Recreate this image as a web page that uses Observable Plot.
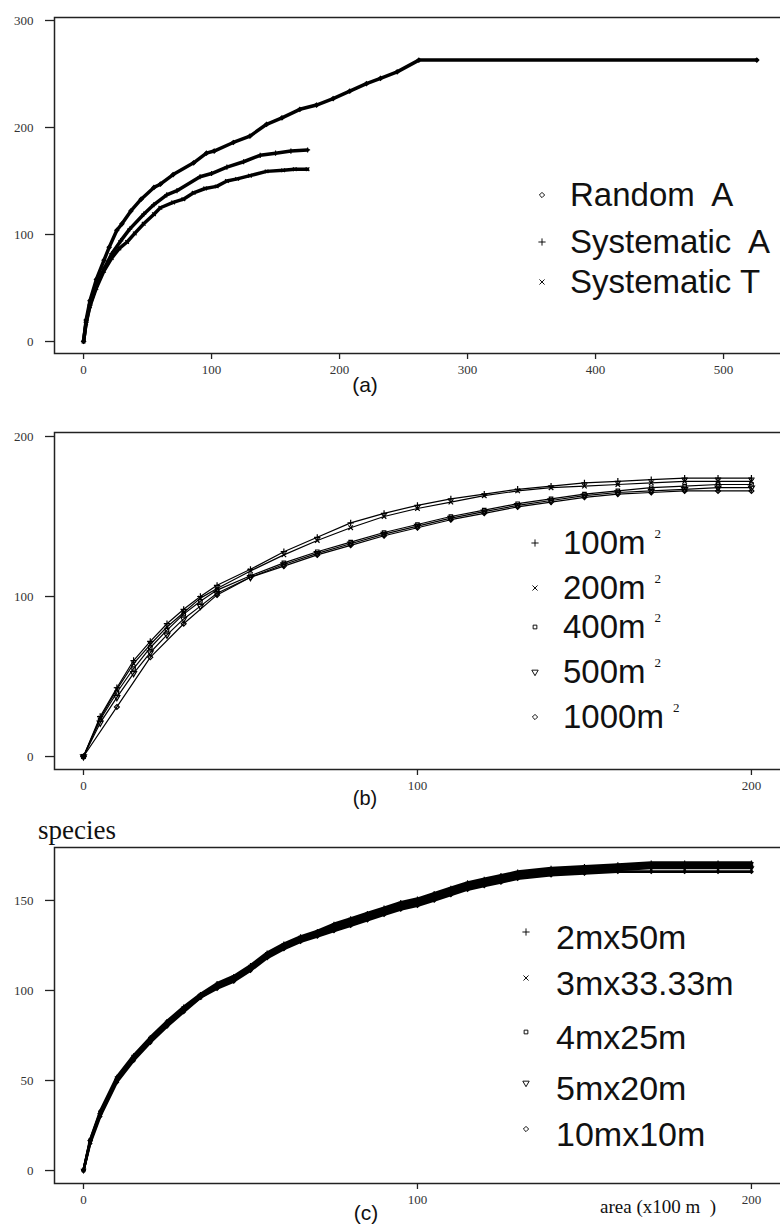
<!DOCTYPE html>
<html>
<head>
<meta charset="utf-8">
<script src="https://cdn.jsdelivr.net/npm/d3@7"></script>
<script src="https://cdn.jsdelivr.net/npm/@observablehq/plot@0.6"></script>
<style>
html, body { margin: 0; padding: 0; background: #fff; overflow: hidden; }
#root { position: relative; width: 790px; height: 1226px; overflow: hidden; background: #fff; }
.panel { position: absolute; left: 0; }
.panel svg { max-width: none !important; display: block; }
.txt { position: absolute; white-space: pre; color: #111; }
.sans { font-family: "Liberation Sans", Arial, sans-serif; }
.serif { font-family: "Liberation Serif", "Times New Roman", serif; }
.leg { position: absolute; width: 280px; }
.lga-swatches, .lgb-swatches, .lgc-swatches { font-family: "Liberation Sans", Arial, sans-serif !important; color: #111 !important; margin: 0 !important; }
.lga-swatch, .lgb-swatch, .lgc-swatch { padding: 0 !important; display: flex; align-items: center; }
.lga-swatch-label, .lgb-swatch-label, .lgc-swatch-label { overflow: visible !important; text-overflow: clip !important; white-space: pre !important; }
.lga-swatch-label, .lgb-swatch-label { font-size: 33px !important; }
.lgc-swatch-label { font-size: 34px !important; }
.lga .lga-swatch { height: 40px; }
.lga .lga-swatch:nth-child(3) { margin-top: 7px; }
.lga .lga-swatch svg { margin-right: 23px !important; }
.lgb .lgb-swatch { height: 45px; }
.lgb .lgb-swatch:nth-child(4) { margin-top: -6px; }
.lgb .lgb-swatch svg { margin-right: 23px !important; }
.lgc .lgc-swatch { height: 46px; }
.lgc .lgc-swatch:nth-child(4) { margin-top: 8px; }
.lgc .lgc-swatch:nth-child(5) { margin-top: 5px; }
.lgc .lgc-swatch svg { margin-right: 25px !important; position: relative; top: -5px; }
.sup { font-family: "Liberation Serif", serif; font-size: 13px; position: relative; top: -16px; margin-left: 9px; }
</style>
</head>
<body>
<div id="root"></div>
<script>
// ---------------- Panel (a) data ----------------
const seriesA = ["Random  A", "Systematic  A", "Systematic T"];
const randomAX = [0, 2, 5, 10, 16, 20, 26, 30, 37, 45, 55, 60, 70, 86, 96, 102, 117, 130, 143, 155, 169, 182, 195, 208, 221, 232, 245, 262, 526];
const randomAY = [0, 20, 38, 58, 76, 88, 104, 110, 122, 133, 144, 147, 156, 167, 176, 178, 186, 192, 203, 209, 217, 221, 227, 234, 241, 246, 252, 263, 263];
const sysAX = [0, 2, 5, 10, 16, 22, 29, 36, 47, 55, 65, 73, 91, 100, 112, 125, 138, 150, 162, 175];
const sysAY = [0, 18, 34, 52, 68, 82, 94, 105, 119, 128, 137, 141, 154, 157, 163, 168, 174, 176, 178, 179];
const sysTX = [0, 2, 5, 10, 16, 22, 28, 34, 40, 47, 55, 60, 70, 78, 86, 95, 104, 112, 120, 130, 143, 156, 165, 175];
const sysTY = [0, 17, 33, 50, 66, 78, 87, 93, 101, 110, 119, 125, 130, 133, 139, 143, 145, 150, 152, 155, 159, 160, 161, 161];
const ticksAX = [0, 100, 200, 300, 400, 500];
const ticksAY = [0, 100, 200, 300];

// ---------------- Panel (b) data ----------------
const seriesB = ["100m", "200m", "400m", "500m", "1000m"];
const bX = [0, 5, 10, 15, 20, 25, 30, 35, 40, 50, 60, 70, 80, 90, 100, 110, 120, 130, 140, 150, 160, 170, 180, 190, 200];
const b100 = [0, 25, 43, 60, 72, 83, 92, 100, 107, 117, 128, 137, 146, 152, 157, 161, 164, 167, 169, 171, 172, 173, 174, 174, 174];
const b200 = [0, 24, 42, 58, 70, 81, 90, 99, 105, 116, 126, 135, 143, 150, 155, 159, 163, 166, 168, 169, 170, 171, 172, 172, 172];
const b400 = [0, 23, 40, 55, 68, 79, 89, 97, 104, 113, 121, 128, 134, 140, 145, 150, 154, 158, 161, 164, 166, 168, 169, 170, 170];
const b500 = [0, 21, 37, 52, 65, 76, 86, 94, 102, 112, 120, 127, 133, 139, 144, 149, 153, 157, 160, 163, 165, 166, 167, 168, 168];
const b1000X = [0, 10, 20, 30, 40, 50, 60, 70, 80, 90, 100, 110, 120, 130, 140, 150, 160, 170, 180, 190, 200];
const b1000 = [0, 31, 62, 83, 101, 112, 119, 126, 132, 138, 143, 148, 152, 156, 159, 162, 164, 165, 166, 166, 166];
const ticksBX = [0, 100, 200];
const ticksBY = [0, 100, 200];

// ---------------- Panel (c) data ----------------
const seriesC = ["2mx50m", "3mx33.33m", "4mx25m", "5mx20m", "10mx10m"];
const cX = [0, 2, 5, 10, 15, 20, 25, 30, 35, 40, 45, 50, 55, 60, 65, 70, 75, 80, 85, 90, 95, 100, 105, 110, 115, 120, 125, 130, 140, 150, 160, 170, 180, 190, 200];
const c2x50 = [0, 17, 33, 52, 64, 74, 83, 91, 98, 104, 108, 114, 121, 126, 130, 133, 137, 140, 143, 146, 149, 151, 154, 157, 160, 162, 164, 166, 168, 169, 170, 171, 171, 171, 171];
const c3x33 = [0, 16, 32, 51, 63, 73, 82, 90, 97, 103, 107, 113, 120, 125, 129, 132, 136, 139, 142, 145, 148, 150, 153, 156, 159, 161, 163, 165, 167, 168, 169, 170, 170, 170, 170];
const c4x25 = [0, 17, 32, 50, 63, 72, 81, 89, 96, 102, 106, 112, 119, 124, 128, 131, 135, 138, 141, 144, 147, 149, 152, 155, 158, 160, 162, 164, 166, 167, 168, 169, 169, 169, 169];
const c5x20 = [0, 16, 31, 50, 62, 72, 81, 89, 97, 102, 106, 112, 119, 124, 128, 131, 134, 137, 140, 143, 146, 148, 151, 154, 157, 159, 161, 163, 165, 166, 167, 168, 168, 168, 168];
const c10x10 = [0, 15, 30, 49, 61, 71, 80, 88, 96, 101, 105, 111, 118, 123, 127, 130, 133, 136, 139, 142, 145, 147, 150, 153, 156, 158, 160, 162, 164, 165, 166, 166, 166, 166, 166];
const ticksCX = [0, 100, 200];
const ticksCY = [0, 50, 100, 150];

// ---------------- helpers ----------------
const triangleDown = {
  draw(context, size) {
    const y = -Math.sqrt(size / (Math.sqrt(3) * 3));
    const s3 = Math.sqrt(3);
    context.moveTo(0, -y * 2);
    context.lineTo(-s3 * y, y);
    context.lineTo(s3 * y, y);
    context.closePath();
  }
};
const symbolsA = ["diamond2", "plus", "times"];
const symbolsBC = ["plus", "times", "square2", triangleDown, "diamond2"];

function tidy(series, xs, ys) { return xs.map((x, i) => ({series, x, y: ys[i]})); }

const dataA = [...tidy(seriesA[0], randomAX, randomAY), ...tidy(seriesA[1], sysAX, sysAY), ...tidy(seriesA[2], sysTX, sysTY)];
const dataB = [...tidy(seriesB[0], bX, b100), ...tidy(seriesB[1], bX, b200), ...tidy(seriesB[2], bX, b400), ...tidy(seriesB[3], bX, b500), ...tidy(seriesB[4], b1000X, b1000)];
const dataC = [...tidy(seriesC[0], cX, c2x50), ...tidy(seriesC[1], cX, c3x33), ...tidy(seriesC[2], cX, c4x25), ...tidy(seriesC[3], cX, c5x20), ...tidy(seriesC[4], cX, c10x10)];

const root = document.getElementById("root");

function panel({top, height, mt, mb, xDomain, yDomain, xTicks, yTicks, data, series, symbols, lineWidth, dotR}) {
  const p = Plot.plot({
    width: 790, height, marginTop: mt, marginBottom: mb, marginLeft: 54, marginRight: 5,
    style: {fontFamily: "'Liberation Serif', 'Times New Roman', serif", fontSize: "13px", color: "#111", background: "white"},
    x: {domain: xDomain},
    y: {domain: yDomain},
    symbol: {domain: series, range: symbols},
    marks: [
      Plot.line(data, {x: "x", y: "y", z: "series", stroke: "#000", strokeWidth: lineWidth, strokeLinejoin: "round"}),
      Plot.dot(data, {x: "x", y: "y", symbol: "series", r: dotR, stroke: "#000", fill: "none", strokeWidth: 1.2}),
      Plot.frame({stroke: "#222", strokeWidth: 1.5}),
      Plot.axisX({ticks: xTicks, tickSize: 6, tickPadding: 5, label: null, fill: "#333", stroke: "#222", strokeWidth: 1.3}),
      Plot.axisY({ticks: yTicks, tickSize: 9, tickPadding: 12, label: null, fill: "#333", stroke: "#222", strokeWidth: 1.3})
    ]
  });
  const d = document.createElement("div");
  d.className = "panel";
  d.style.top = top + "px";
  d.appendChild(p);
  root.appendChild(d);
}

panel({top: 0, height: 400, mt: 17, mb: 47, xDomain: [-22.7, 548.4], yDomain: [-11.2, 302.8], xTicks: ticksAX, yTicks: ticksAY, data: dataA, series: seriesA, symbols: symbolsA, lineWidth: 3.5, dotR: 1.8});
panel({top: 400, height: 410, mt: 32, mb: 41, xDomain: [-8.68, 210.2], yDomain: [-8.1, 202.5], xTicks: ticksBX, yTicks: ticksBY, data: dataB, series: seriesB, symbols: symbolsBC, lineWidth: 1.2, dotR: 2.2});
panel({top: 810, height: 416, mt: 37, mb: 43, xDomain: [-8.68, 210.2], yDomain: [-7.2, 179.4], xTicks: ticksCX, yTicks: ticksCY, data: dataC, series: seriesC, symbols: symbolsBC, lineWidth: 2.6, dotR: 1.5});

function legend(cls, series, symbols, left, top, sup) {
  const l = Plot.legend({symbol: {domain: series, range: symbols}, columns: 1, swatchSize: 10, r: 3.8, fill: "none", stroke: "#000", strokeWidth: 1.5, className: cls});
  const d = document.createElement("div");
  d.className = "leg " + cls;
  d.style.left = left + "px";
  d.style.top = top + "px";
  d.appendChild(l);
  root.appendChild(d);
  if (sup) {
    d.querySelectorAll("." + cls + "-swatch-label").forEach(el => {
      const s = document.createElement("span");
      s.className = "sup";
      s.textContent = "2";
      el.appendChild(s);
    });
  }
}
legend("lga", seriesA, symbolsA, 537, 175, false);
legend("lgb", seriesB, symbolsBC, 530, 520, true);
legend("lgc", seriesC, symbolsBC, 521, 914, false);

function text(str, cls, left, top, size, lh, extra) {
  const d = document.createElement("div");
  d.className = "txt " + cls;
  d.textContent = str;
  d.style.left = left + "px";
  d.style.top = top + "px";
  d.style.fontSize = size + "px";
  d.style.lineHeight = lh + "px";
  if (extra) Object.assign(d.style, extra);
  root.appendChild(d);
  return d;
}
text("(a)", "sans", 345, 373, 21, 24, {width: "40px", textAlign: "center"});
text("(b)", "sans", 345, 787, 20, 22, {width: "40px", textAlign: "center"});
text("(c)", "sans", 346, 1201, 21, 24, {width: "40px", textAlign: "center"});
text("species", "serif", 38, 815, 27, 30);
text("area (x100 m  )", "serif", 600, 1196, 19, 22);
</script>
</body>
</html>
